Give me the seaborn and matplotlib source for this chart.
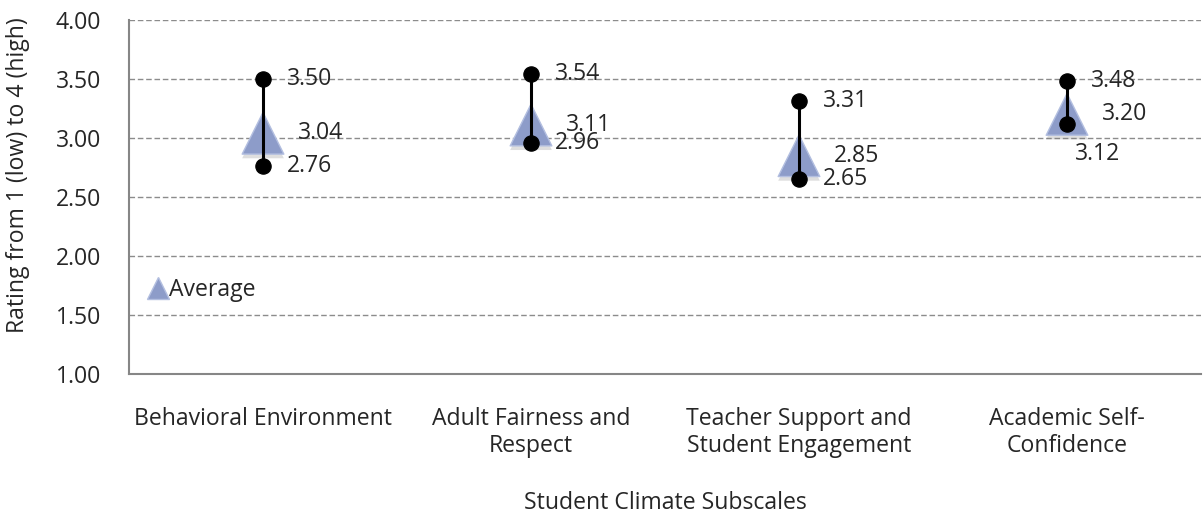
import matplotlib
matplotlib.use("Agg")
import matplotlib.pyplot as plt
import matplotlib.patheffects as pe
from matplotlib.lines import Line2D
import seaborn as sns
import pandas as pd

# Student climate subscale ratings
subscales = [
    "Behavioral Environment",
    "Adult Fairness and\nRespect",
    "Teacher Support and\nStudent Engagement",
    "Academic Self-\nConfidence",
]
high = [3.50, 3.54, 3.31, 3.48]
average = [3.04, 3.11, 2.85, 3.20]
low = [2.76, 2.96, 2.65, 3.12]
y_ticks = [1.00, 1.50, 2.00, 2.50, 3.00, 3.50, 4.00]

sns.set_theme(style="white")
plt.rcParams["font.family"] = ["Open Sans", "DejaVu Sans"]
FS = 16.6

df = pd.DataFrame({"x": range(len(subscales)), "subscale": subscales,
                   "high": high, "average": average, "low": low})

fig = plt.figure(figsize=(12.03, 5.17), dpi=100)
ax = fig.add_axes([129 / 1203, 1 - 374 / 517, 1072 / 1203, 354 / 517])

tri_color = "#8d9cc9"

# Average markers
sns.scatterplot(data=df, x="x", y="average", marker="^", s=30 ** 2,
                color=tri_color, edgecolor="#b3bfe0", linewidth=1.0,
                ax=ax, zorder=3, legend=False)
for c in ax.collections:
    c.set_path_effects([pe.SimplePatchShadow(offset=(0, -3), shadow_rgbFace="#7f7f7f", alpha=0.25),
                        pe.Normal()])

# High-low range lines and end points
ax.vlines(df["x"], df["low"], df["high"], color="black", linewidth=2.2, zorder=4)
long = df.melt(id_vars="x", value_vars=["high", "low"], value_name="rating")
sns.scatterplot(data=long, x="x", y="rating", marker="o", s=11 ** 2,
                color="black", edgecolor="black", ax=ax, zorder=5, legend=False)

# Value labels
for i, row in df.iterrows():
    ax.annotate(f"{row['high']:.2f}", (row["x"], row["high"]), xytext=(17, 0),
                textcoords="offset points", va="center", ha="left", fontsize=FS, zorder=6)
    ax.annotate(f"{row['average']:.2f}", (row["x"], row["average"]), xytext=(25, 0),
                textcoords="offset points", va="center", ha="left", fontsize=FS, zorder=6)
    if i == 3:
        ax.annotate(f"{row['low']:.2f}", (row["x"], row["low"]), xytext=(6, -22),
                    textcoords="offset points", va="center", ha="left", fontsize=FS, zorder=6)
    else:
        ax.annotate(f"{row['low']:.2f}", (row["x"], row["low"]), xytext=(17, 0),
                    textcoords="offset points", va="center", ha="left", fontsize=FS, zorder=6)

ax.set_xlim(-0.5, 3.5)
ax.set_ylim(1.0, 4.0)
ax.set_yticks(y_ticks)
ax.set_yticklabels([f"{v:.2f}" for v in y_ticks], fontsize=FS)
ax.set_xticks(df["x"])
ax.set_xticklabels(subscales, fontsize=FS, linespacing=1.15, va="top")
ax.tick_params(axis="x", length=0, pad=24)
ax.tick_params(axis="y", direction="in", length=5, width=1.2, color="#868686", pad=20)

for y in y_ticks[1:]:
    ax.axhline(y, color="#8c8c8c", linewidth=1.0, linestyle=(0, (4, 2)), zorder=1)

for side in ["top", "right"]:
    ax.spines[side].set_visible(False)
for side in ["left", "bottom"]:
    ax.spines[side].set_color("#868686")
    ax.spines[side].set_linewidth(1.5)

ax.set_xlabel("Student Climate Subscales", fontsize=FS, labelpad=24)
ax.set_ylabel("Rating from 1 (low) to 4 (high)", fontsize=FS)
ax.yaxis.set_label_coords(-0.092, 0.562)

handle = Line2D([], [], marker="^", linestyle="none", markersize=16,
                markerfacecolor=tri_color, markeredgecolor="#b3bfe0")
ax.legend([handle], ["Average"], loc="center left", bbox_to_anchor=(0.018, 0.237),
          frameon=False, fontsize=FS, handlelength=0.8, handletextpad=0.1,
          borderaxespad=0, borderpad=0)

fig.savefig("out.png", dpi=100)
